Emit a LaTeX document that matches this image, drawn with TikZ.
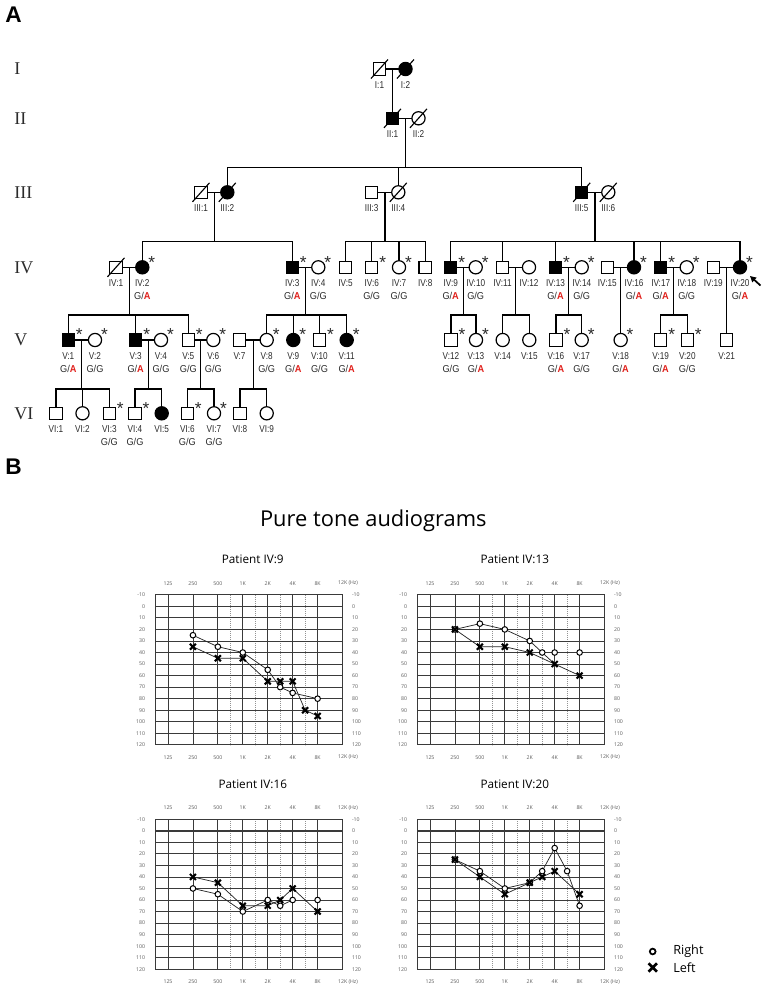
\documentclass[tikz,border=0pt]{standalone}
\usepackage{fontspec}
\setmainfont{Liberation Serif}
\newfontfamily\pedfont[FakeStretch=0.82]{Liberation Sans}
\newfontfamily\genfont[FakeStretch=0.92]{Liberation Sans}
\newfontfamily\sansfont{Liberation Sans}
\newfontfamily\agfont{Open Sans}
\usetikzlibrary{shapes.misc,arrows.meta}
\definecolor{txt}{HTML}{2B2B2B}
\definecolor{gred}{HTML}{E0201B}
\definecolor{agg}{HTML}{3A3A3A}
\definecolor{agt}{HTML}{5A5A5A}
\tikzset{
  ped/.style={line width=0.85pt, draw=black, line cap=rect},
  sym/.style={draw=black, line width=0.9pt, inner sep=0pt, outer sep=0pt, fill=white},
  male/.style={sym, rectangle, minimum size=9.2pt},
  female/.style={sym, circle, minimum size=9.9pt},
  aff/.style={fill=black},
  lab/.style={font={\pedfont\fontsize{7.5}{8}\selectfont}, text=txt, inner sep=0pt},
  geno/.style={font={\genfont\fontsize{7.5}{8}\selectfont}, text=txt, inner sep=0pt},
  astx/.style={font={\sansfont\fontsize{13}{13}\selectfont}, text=txt, inner sep=0pt, anchor=north},
  genlab/.style={font={\fontsize{13.5}{14}\selectfont}, text=txt, inner sep=0pt, anchor=west},
  panel/.style={font={\sansfont\bfseries\fontsize{17}{18}\selectfont}, inner sep=0pt},
  aggrid/.style={draw=agg, line width=0.6pt},
  agdot/.style={draw=agg!55, line width=0.5pt, densely dotted},
  aglab/.style={font={\agfont\fontsize{3.9}{4.5}\selectfont}, text=agt, inner sep=0pt},
  agtitle/.style={font={\agfont\fontsize{8.8}{10}\selectfont}, inner sep=0pt, anchor=base},
  agline/.style={draw=black!85, line width=0.55pt},
  rmark/.style={circle, draw=black, fill=white, line width=0.75pt, minimum size=4.2pt, inner sep=0pt},
  lmark/.style={cross out, draw=black, line width=1.55pt, minimum size=2.9pt, inner sep=0pt},
}
% pedigree helpers
\newcommand\pM[3][]{\node[male,#1] (#2) at (#3) {};}
\newcommand\pF[3][]{\node[female,#1] (#2) at (#3) {};}
\newcommand\pD[1]{\draw[ped,line cap=butt] (#1.center) ++(-8.5,9.5) -- ++(17,-19);}
\newcommand\pL[2]{\node[lab,yshift=-12pt] (#1-l) at (#1.center) {#2};}
\newcommand\gA[1]{\node[geno,yshift=-21.8pt] (#1-g) at (#1.center) {G/{\bfseries\color{gred}A}};}
\newcommand\gG[1]{\node[geno,yshift=-21.8pt] (#1-g) at (#1.center) {G/G};}
\newcommand\aM[1]{\node[astx,xshift=8.3pt,yshift=8.6pt] (#1-a) at (#1.center) {*};}
\newcommand\aF[1]{\node[astx,xshift=7.1pt,yshift=8.6pt] (#1-a) at (#1.center) {*};}
\newcommand\pfam[6]{%
  \draw[ped] (#1) -- (#2);
  \path (#1.center) -- (#2.center) coordinate[midway] (m-#1);
  \draw[ped] (m-#1) -- (m-#1 |- #3);
  \draw[ped] (#4 |- #3) -- (#5 |- #3);
  \foreach \c in {#6} {\draw[ped] (\c) -- (\c |- #3);}
}
\newcommand\pfamone[3]{%
  \draw[ped] (#1) -- (#2);
  \path (#1.center) -- (#2.center) coordinate[midway] (m-#1);
  \draw[ped] (m-#1) -- (#3);
}
% audiogram helpers
\newcommand\Rpts[1]{\foreach \a/\b in {#1} {\node[rmark] at (\a,\b) {};}}
\newcommand\Lpts[1]{\foreach \a/\b in {#1} {\node[lmark] at (\a,\b) {};}}
\newcommand\audiogram[4]{%
\begin{scope}[shift={(#1+12.5,#2+11.54)}, x=18.7pt, y=-0.8655pt]
  \foreach \k in {2.5,3.5,4.5,5.5} {\draw[agdot] (\k,-10) -- (\k,120);}
  \foreach \dd in {-10,0,...,120} {\draw[aggrid] (-0.5,\dd) -- (7,\dd);}
  \foreach \k in {0,...,6} {\draw[aggrid] (\k,-10) -- (\k,120);}
  \draw[aggrid, line width=1.2pt] (-0.5,0) -- (7,0);
  \draw[aggrid] (-0.5,-10) rectangle (7,120);
  \foreach \k/\t in {0/125,1/250,2/500,3/1K,4/2K,5/4K,6/8K} {
    \node[aglab] at (\k,-19.8) {\t};
    \node[aglab] at (\k,130.8) {\t};}
  \node[aglab] at (7.22,-19.8) {12K (Hz)};
  \node[aglab] at (7.22,130.8) {12K (Hz)};
  \foreach \dd in {-10,0,...,120} {
    \node[aglab,anchor=east] at (-0.91,\dd) {\dd};
    \node[aglab,anchor=west] at (7.37,\dd) {\dd};}
  \node[agtitle] at (3.4,-36.8) {#3};
  #4
\end{scope}}
\begin{document}
\begin{tikzpicture}[x=0.75pt,y=-0.75pt]
\useasboundingbox (0,0) rectangle (764,990);
% panel labels
\node[panel] (pA) at (13.5,15) {A};
\node[panel] (pB) at (13.5,467) {B};
% generation labels
\node[genlab] (gI) at (14,69) {I};
\node[genlab] (gII) at (14,118.3) {II};
\node[genlab] (gIII) at (14,192.3) {III};
\node[genlab] (gIV) at (14,267.3) {IV};
\node[genlab] (gV) at (14,340) {V};
\node[genlab] (gVI) at (14,413.3) {VI};
% sibship levels
\coordinate (yIII) at (0,167.7);
\coordinate (yIV) at (0,241.7);
\coordinate (yV) at (0,315);
\coordinate (yVI) at (0,389);
% generation I
\pM{I1}{379.5,69} \pF[aff]{I2}{405.5,69}
% generation II
\pM[aff]{II1}{392.5,118.3} \pF{II2}{418.5,118.3}
% generation III
\pM{III1}{201,192.3} \pF[aff]{III2}{227.3,192.3}
\pM{III3}{371.7,192.3} \pF{III4}{398.3,192.3}
\pM[aff]{III5}{581.7,192.3} \pF{III6}{608.3,192.3}
% generation IV
\pM{IV1}{116,267.3} \pF[aff]{IV2}{142.3,267.3}
\pM[aff]{IV3}{292.3,267.3} \pF{IV4}{318.3,267.3}
\pM{IV5}{345.5,267.3} \pM{IV6}{371.7,267.3} \pF{IV7}{399,267.3} \pM{IV8}{425.2,267.3}
\pM[aff]{IV9}{450.7,267.3} \pF{IV10}{475.7,267.3}
\pM{IV11}{502.5,267.3} \pF{IV12}{529,267.3}
\pM[aff]{IV13}{555.5,267.3} \pF{IV14}{581.7,267.3}
\pM{IV15}{607.3,267.3} \pF[aff]{IV16}{634,267.3}
\pM[aff]{IV17}{660.7,267.3} \pF{IV18}{686.7,267.3}
\pM{IV19}{713.3,267.3} \pF[aff]{IV20}{740,267.3}
% generation V
\pM[aff]{V1}{68.3,340} \pF{V2}{95,340}
\pM[aff]{V3}{135.7,340} \pF{V4}{161,340}
\pM{V5}{188.3,340} \pF{V6}{213.3,340}
\pM{V7}{239.5,340} \pF{V8}{266.7,340}
\pF[aff]{V9}{293.3,340} \pM{V10}{319.5,340} \pF[aff]{V11}{346.7,340}
\pM{V12}{451,340} \pF{V13}{476,340}
\pF{V14}{502.7,340} \pF{V15}{529.3,340}
\pM{V16}{556,340} \pF{V17}{581.7,340}
\pF{V18}{620.65,340}
\pM{V19}{660.7,340} \pM{V20}{687.3,340}
\pM{V21}{726.65,340}
% generation VI
\pM{VI1}{56,413.3} \pF{VI2}{82.5,413.3} \pM{VI3}{109.3,413.3}
\pM{VI4}{135,413.3} \pF[aff]{VI5}{161.7,413.3}
\pM{VI6}{187.3,413.3} \pF{VI7}{214,413.3}
\pM{VI8}{240,413.3} \pF{VI9}{266.7,413.3}
% deceased
\pD{I1} \pD{I2} \pD{II1} \pD{II2} \pD{III1} \pD{III2} \pD{III4} \pD{III5} \pD{III6} \pD{IV1}
% families
\pfamone{I1}{I2}{II1}
\pfam{II1}{II2}{yIII}{III2}{III5}{III2,III4,III5}
\pfam{III1}{III2}{yIV}{IV2}{IV3}{IV2,IV3}
\pfam{III3}{III4}{yIV}{IV5}{IV8}{IV5,IV6,IV7,IV8}
\pfam{III5}{III6}{yIV}{IV9}{IV20}{IV9,IV11,IV13,IV16,IV17,IV20}
\pfam{IV1}{IV2}{yV}{V1}{V5}{V1,V3,V5}
\pfam{IV3}{IV4}{yV}{V8}{V11}{V8,V9,V10,V11}
\pfam{IV9}{IV10}{yV}{V12}{V13}{V12,V13}
\pfam{IV11}{IV12}{yV}{V14}{V15}{V14,V15}
\pfam{IV13}{IV14}{yV}{V16}{V17}{V16,V17}
\pfamone{IV15}{IV16}{V18}
\pfam{IV17}{IV18}{yV}{V19}{V20}{V19,V20}
\pfamone{IV19}{IV20}{V21}
\pfam{V1}{V2}{yVI}{VI1}{VI3}{VI1,VI2,VI3}
\pfam{V3}{V4}{yVI}{VI4}{VI5}{VI4,VI5}
\pfam{V5}{V6}{yVI}{VI6}{VI7}{VI6,VI7}
\pfam{V7}{V8}{yVI}{VI8}{VI9}{VI8,VI9}
% labels
\pL{I1}{I:1} \pL{I2}{I:2} \pL{II1}{II:1} \pL{II2}{II:2}
\pL{III1}{III:1} \pL{III2}{III:2} \pL{III3}{III:3} \pL{III4}{III:4} \pL{III5}{III:5} \pL{III6}{III:6}
\pL{IV1}{IV:1} \pL{IV2}{IV:2} \pL{IV3}{IV:3} \pL{IV4}{IV:4} \pL{IV5}{IV:5} \pL{IV6}{IV:6} \pL{IV7}{IV:7}
\pL{IV8}{IV:8} \pL{IV9}{IV:9} \pL{IV10}{IV:10} \pL{IV11}{IV:11} \pL{IV12}{IV:12} \pL{IV13}{IV:13}
\pL{IV14}{IV:14} \pL{IV15}{IV:15} \pL{IV16}{IV:16} \pL{IV17}{IV:17} \pL{IV18}{IV:18} \pL{IV19}{IV:19} \pL{IV20}{IV:20}
\pL{V1}{V:1} \pL{V2}{V:2} \pL{V3}{V:3} \pL{V4}{V:4} \pL{V5}{V:5} \pL{V6}{V:6} \pL{V7}{V:7} \pL{V8}{V:8}
\pL{V9}{V:9} \pL{V10}{V:10} \pL{V11}{V:11} \pL{V12}{V:12} \pL{V13}{V:13} \pL{V14}{V:14} \pL{V15}{V:15}
\pL{V16}{V:16} \pL{V17}{V:17} \pL{V18}{V:18} \pL{V19}{V:19} \pL{V20}{V:20} \pL{V21}{V:21}
\pL{VI1}{VI:1} \pL{VI2}{VI:2} \pL{VI3}{VI:3} \pL{VI4}{VI:4} \pL{VI5}{VI:5} \pL{VI6}{VI:6} \pL{VI7}{VI:7} \pL{VI8}{VI:8} \pL{VI9}{VI:9}
% genotypes
\gA{IV2} \gA{IV3} \gG{IV4} \gG{IV6} \gG{IV7} \gA{IV9} \gG{IV10} \gA{IV13} \gG{IV14} \gA{IV16} \gA{IV17} \gG{IV18} \gA{IV20}
\gA{V1} \gG{V2} \gA{V3} \gG{V4} \gG{V5} \gG{V6} \gG{V8} \gA{V9} \gG{V10} \gA{V11} \gG{V12} \gA{V13} \gA{V16} \gG{V17} \gA{V18} \gA{V19} \gG{V20}
\gG{VI3} \gG{VI4} \gG{VI6} \gG{VI7}
% asterisks
\aF{IV2} \aM{IV3} \aF{IV4} \aM{IV6} \aF{IV7} \aM{IV9} \aF{IV10} \aM{IV13} \aF{IV14} \aF{IV16} \aM{IV17} \aF{IV18} \aF{IV20}
\aM{V1} \aF{V2} \aM{V3} \aF{V4} \aM{V5} \aF{V6} \aF{V8} \aF{V9} \aM{V10} \aF{V11} \aM{V12} \aF{V13} \aM{V16} \aF{V17} \aF{V18} \aM{V19} \aM{V20}
\aM{VI3} \aM{VI4} \aM{VI6} \aF{VI7}
% proband arrow
\coordinate (arrS) at (760.5,285.5);
\coordinate (arrT) at (750,276);
\draw[-{Triangle[length=4.5pt,width=4.5pt]}, line width=1.3pt] (arrS) -- (arrT);
% panel B
\node[font={\agfont\fontsize{16.4}{18}\selectfont}, anchor=base, inner sep=0pt] (ttl) at (373.3,526) {Pure tone audiograms};
\audiogram{155.5}{594.8}{Patient IV:9}{
  \draw[agline] (1,25)--(2,35)--(3,40)--(4,55)--(4.5,70)--(5,75)--(6,80);
  \draw[agline] (1,35)--(2,45)--(3,45)--(4,65)--(4.5,65)--(5,65)--(5.5,90)--(6,95);
  \Rpts{1/25,2/35,3/40,4/55,4.5/70,5/75,6/80}
  \Lpts{1/35,2/45,3/45,4/65,4.5/65,5/65,5.5/90,6/95}
}
\audiogram{417.5}{594.8}{Patient IV:13}{
  \draw[agline] (1,20)--(2,15)--(3,20)--(4,30)--(4.5,40)--(5,50);
  \draw[agline] (1,20)--(2,35)--(3,35)--(4,40)--(5,50)--(6,60);
  \Rpts{1/20,2/15,3/20,4/30,4.5/40,5/40,6/40}
  \Lpts{1/20,2/35,3/35,4/40,5/50,6/60}
}
\audiogram{155.5}{819.2}{Patient IV:16}{
  \draw[agline] (1,50)--(2,55)--(3,70)--(4,60)--(4.5,65)--(5,60);
  \draw[agline] (1,40)--(2,45)--(3,65)--(4,65)--(4.5,60)--(5,50)--(6,70);
  \Rpts{1/50,2/55,3/70,4/60,4.5/65,5/60,6/60}
  \Lpts{1/40,2/45,3/65,4/65,4.5/60,5/50,6/70}
}
\audiogram{417.5}{819.2}{Patient IV:20}{
  \draw[agline] (1,25)--(2,35)--(3,50)--(4,45)--(4.5,35)--(5,15)--(5.5,35)--(6,65);
  \draw[agline] (1,25)--(2,40)--(3,55)--(4,45)--(4.5,40)--(5,35)--(6,55);
  \Rpts{1/25,2/35,3/50,4/45,4.5/35,5/15,5.5/35,6/65}
  \Lpts{1/25,2/40,3/55,4/45,4.5/40,5/35,6/55}
}
% legend
\node[circle, draw=black, line width=1.3pt, minimum size=4.3pt, inner sep=0pt] (legR) at (652.7,951.5) {};
\node[cross out, draw=black, line width=2pt, minimum size=4.3pt, inner sep=0pt] (legL) at (652.7,967.5) {};
\node[font={\agfont\fontsize{9.5}{10}\selectfont}, anchor=west, inner sep=0pt] (legRt) at (673,951.5) {Right};
\node[font={\agfont\fontsize{9.5}{10}\selectfont}, anchor=west, inner sep=0pt] (legLt) at (673,967.5) {Left};
\end{tikzpicture}
\end{document}
